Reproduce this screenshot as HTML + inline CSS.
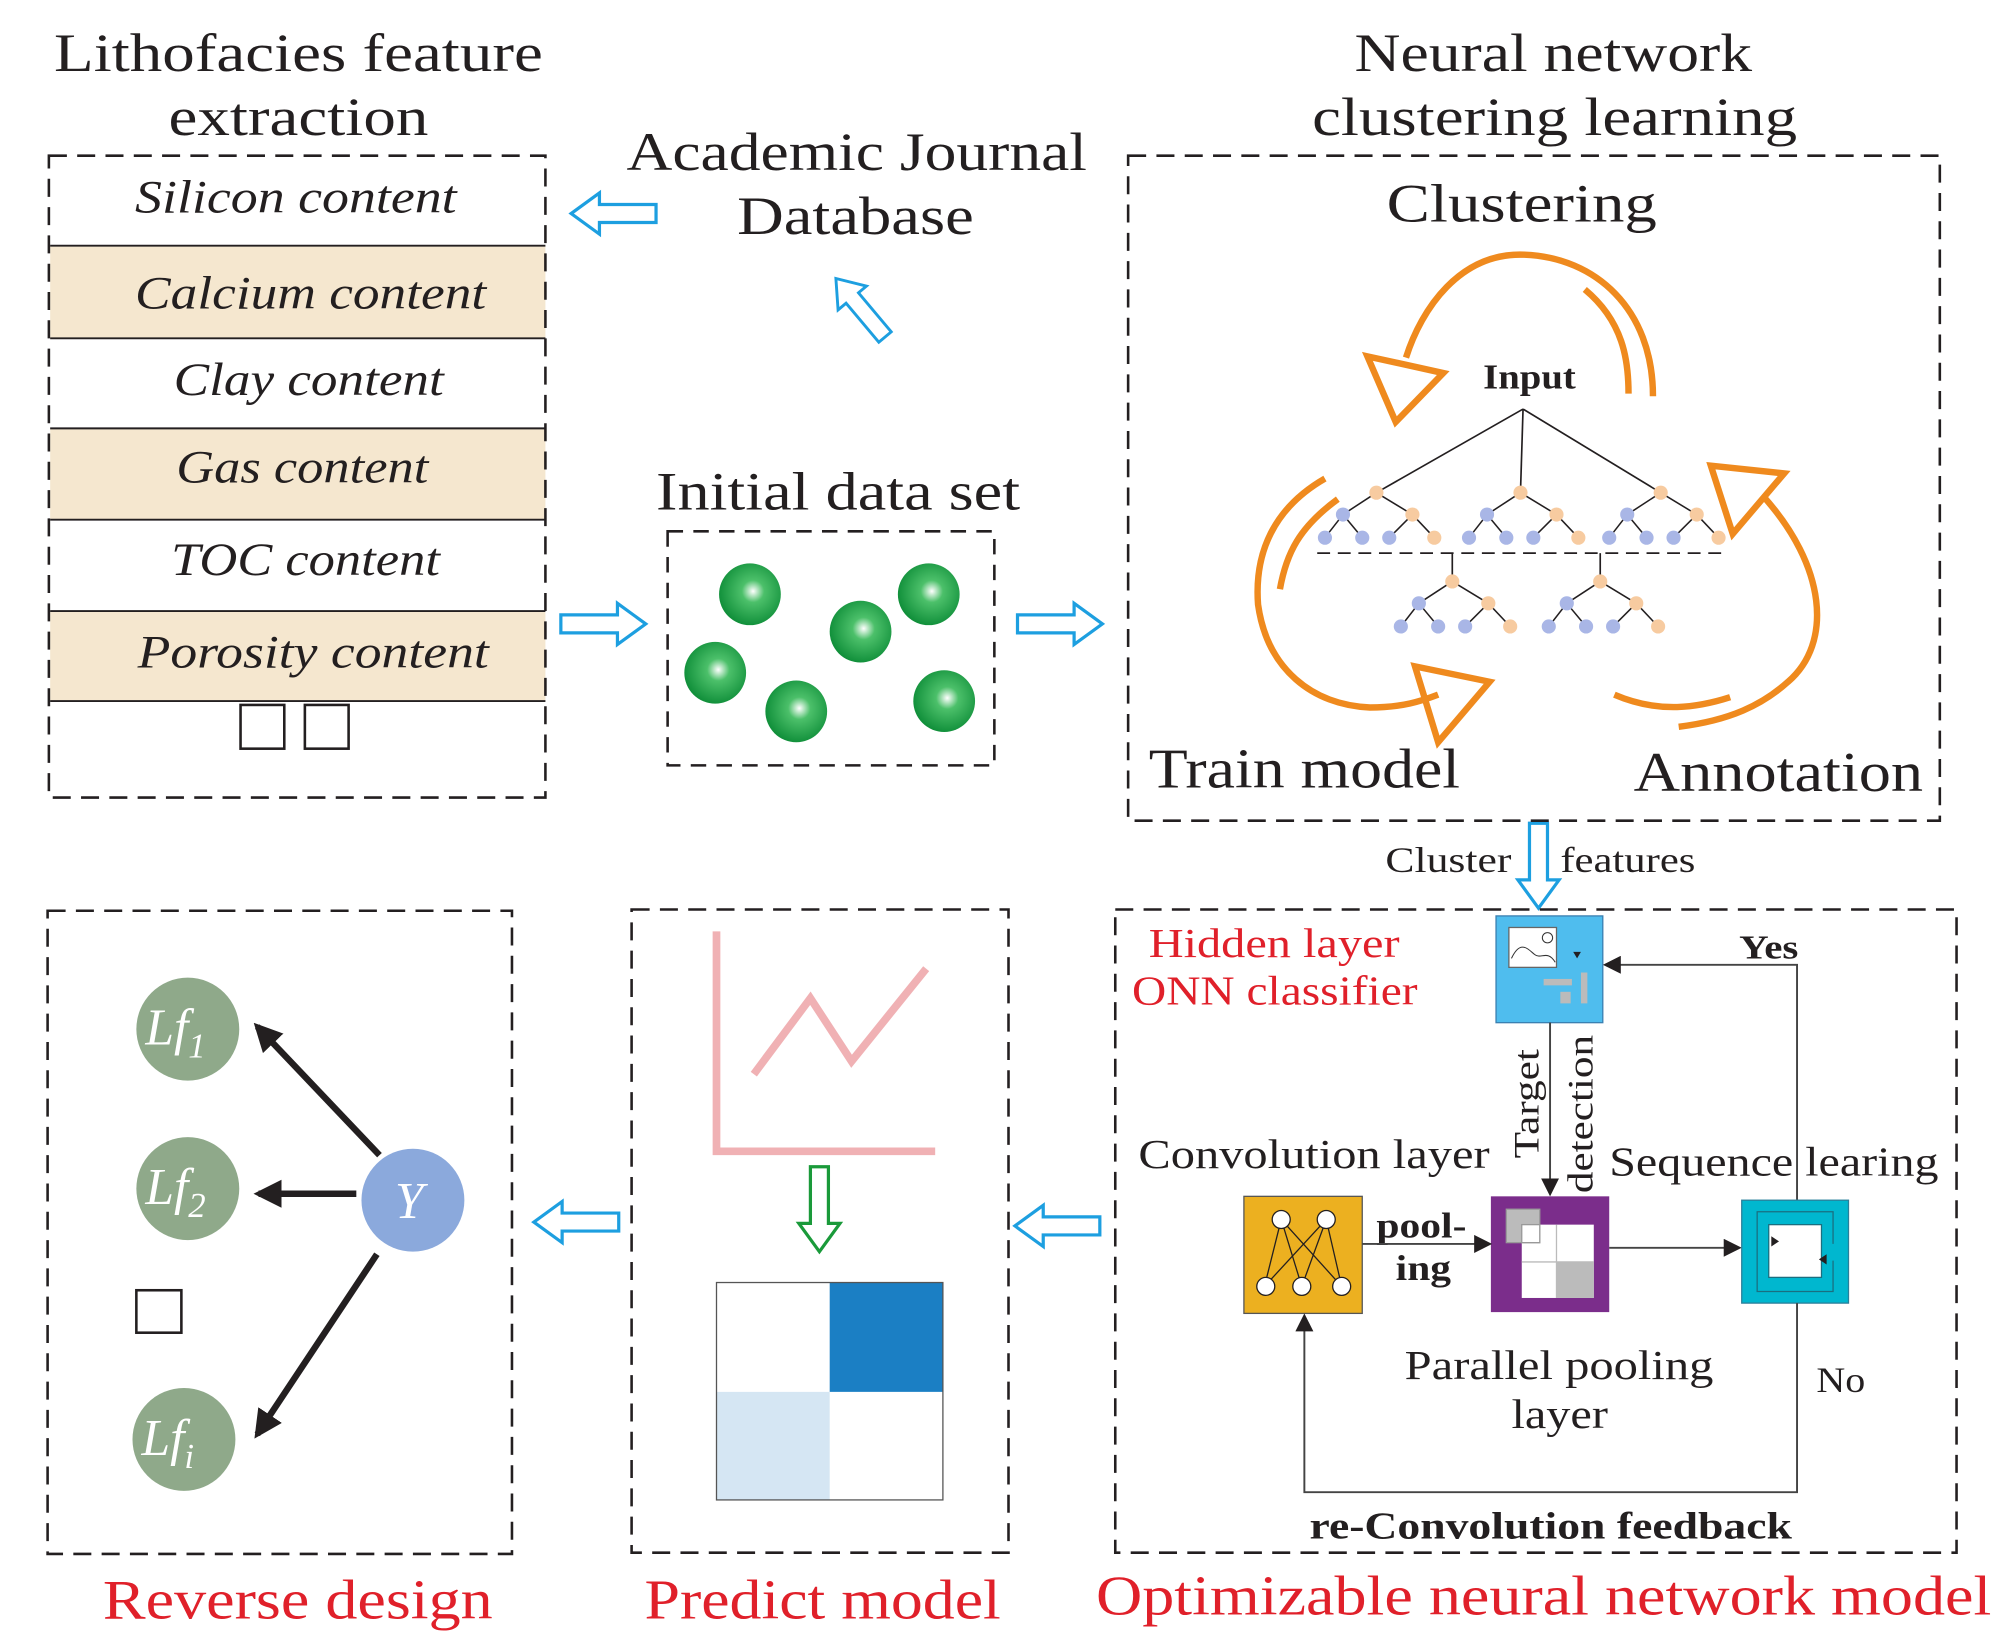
<!DOCTYPE html>
<html><head><meta charset="utf-8"><style>
html,body{margin:0;padding:0;background:#fff}
svg{display:block}
text{font-family:"Liberation Serif",serif;fill:#231f20}
</style></head><body>
<svg width="2008" height="1644" viewBox="0 0 1561 1278" preserveAspectRatio="none" xmlns="http://www.w3.org/2000/svg">
<defs>
<radialGradient id="gb" cx="0.55" cy="0.45" r="0.6"><stop offset="0" stop-color="#fff"/><stop offset="0.3" stop-color="#4cc06a"/><stop offset="1" stop-color="#0a8a35"/></radialGradient>
<marker id="ah2" markerWidth="14" markerHeight="14" refX="12" refY="7" orient="auto" markerUnits="userSpaceOnUse"><path d="M0,0 L14,7 L0,14z" fill="#231f20"/></marker>
<marker id="ahb" markerWidth="22" markerHeight="22" refX="18" refY="11" orient="auto" markerUnits="userSpaceOnUse"><path d="M0,0 L22,11 L0,22z" fill="#231f20"/></marker>
<g id="harr"><path d="M0,-7 L44,-7 L44,-16 L66,0 L44,16 L44,7 L0,7z" fill="#fff" stroke="#1d9fe0" stroke-width="2.5"/></g>
</defs>

<!-- Titles -->
<text x="42" y="55" font-size="42" textLength="380" lengthAdjust="spacingAndGlyphs">Lithofacies feature</text>
<text x="131" y="105" font-size="42" textLength="202" lengthAdjust="spacingAndGlyphs">extraction</text>
<text x="487" y="132" font-size="42" textLength="358" lengthAdjust="spacingAndGlyphs">Academic Journal</text>
<text x="573" y="182" font-size="42" textLength="184" lengthAdjust="spacingAndGlyphs">Database</text>
<text x="1053" y="55" font-size="42" textLength="309" lengthAdjust="spacingAndGlyphs">Neural network</text>
<text x="1020" y="105" font-size="42" textLength="377" lengthAdjust="spacingAndGlyphs">clustering learning</text>
<text x="510" y="396" font-size="42" textLength="283" lengthAdjust="spacingAndGlyphs">Initial data set</text>

<!-- Left box -->
<rect x="39" y="191" width="385" height="72" fill="#f5e7cf"/>
<rect x="39" y="333" width="385" height="71" fill="#f5e7cf"/>
<rect x="39" y="475" width="385" height="70" fill="#f5e7cf"/>
<g stroke="#231f20" stroke-width="1.5">
<line x1="39" y1="191" x2="424" y2="191"/><line x1="39" y1="263" x2="424" y2="263"/>
<line x1="39" y1="333" x2="424" y2="333"/><line x1="39" y1="404" x2="424" y2="404"/>
<line x1="39" y1="475" x2="424" y2="475"/><line x1="39" y1="545" x2="424" y2="545"/>
</g>
<rect x="38" y="121" width="386" height="499" fill="none" stroke="#231f20" stroke-width="2" stroke-dasharray="14,8"/>
<g font-size="36" font-style="italic" lengthAdjust="spacingAndGlyphs">
<text x="105" y="165" textLength="250" lengthAdjust="spacingAndGlyphs">Silicon content</text>
<text x="105" y="240" textLength="273" lengthAdjust="spacingAndGlyphs">Calcium content</text>
<text x="135" y="307" textLength="210" lengthAdjust="spacingAndGlyphs">Clay content</text>
<text x="137" y="375" textLength="196" lengthAdjust="spacingAndGlyphs">Gas content</text>
<text x="133" y="447" textLength="209" lengthAdjust="spacingAndGlyphs">TOC content</text>
<text x="107" y="519" textLength="273" lengthAdjust="spacingAndGlyphs">Porosity content</text>
</g>
<rect x="187" y="548" width="34" height="34" fill="none" stroke="#231f20" stroke-width="2"/>
<rect x="237" y="548" width="34" height="34" fill="none" stroke="#231f20" stroke-width="2"/>

<!-- hollow arrows -->
<use href="#harr" transform="translate(510,166) rotate(180)"/>
<use href="#harr" transform="translate(688,262) rotate(-130) scale(0.9)"/>
<use href="#harr" transform="translate(436,485)"/>
<use href="#harr" transform="translate(791,485)"/>
<use href="#harr" transform="translate(1196,640) rotate(90)"/>
<use href="#harr" transform="translate(481,950) rotate(180)"/>
<use href="#harr" transform="translate(855,953) rotate(180)"/>
<path d="M-7,0 L-7,44 L-16,44 L0,66 L16,44 L7,44 L7,0z" transform="translate(637,907)" fill="#fff" stroke="#1a9a3a" stroke-width="2.5"/>

<!-- initial data set -->
<rect x="519" y="413" width="254" height="182" fill="none" stroke="#231f20" stroke-width="2" stroke-dasharray="12,8"/>
<g fill="url(#gb)">
<circle cx="583" cy="462" r="24"/><circle cx="669" cy="491" r="24"/><circle cx="722" cy="462" r="24"/>
<circle cx="556" cy="523" r="24"/><circle cx="619" cy="553" r="24"/><circle cx="734" cy="545" r="24"/>
</g>

<!-- clustering box -->
<rect x="877" y="121" width="631" height="517" fill="none" stroke="#231f20" stroke-width="2" stroke-dasharray="14,8"/>
<text x="1078" y="172" font-size="42" textLength="210" lengthAdjust="spacingAndGlyphs">Clustering</text>
<text x="1153" y="302" font-size="27" font-weight="bold" textLength="72" lengthAdjust="spacingAndGlyphs">Input</text>
<g fill="none" stroke="#ef8a1e" stroke-width="5">
<path d="M1285,308 C1285,240 1240,200 1185,198 C1135,196 1105,240 1093,278"/>
<path d="M1232,225 C1262,250 1266,280 1266,306"/>
<path d="M1063,277 L1122,290 L1085,328z"/>
<path d="M1330,362 L1387,368 L1347,415z"/>
<path d="M1370,385 C1420,440 1425,500 1390,530 C1370,548 1345,560 1305,565"/>
<path d="M1255,540 C1290,555 1320,550 1345,542"/>
<path d="M1030,372 C990,395 975,430 978,470 C985,520 1020,548 1065,550 C1090,550 1105,545 1118,540"/>
<path d="M1040,388 C1010,410 1000,430 995,458"/>
<path d="M1100,518 L1158,530 L1118,577z"/>
</g>
<g stroke="#231f20" stroke-width="1.3" fill="none">
<line x1="1184" y1="318" x2="1070" y2="383"/><line x1="1184" y1="318" x2="1182" y2="383"/><line x1="1184" y1="318" x2="1291" y2="383"/>
<line x1="1024" y1="430" x2="1340" y2="430" stroke-dasharray="10,6"/>
<line x1="1129" y1="430" x2="1129" y2="452"/><line x1="1244" y1="430" x2="1244" y2="452"/>
</g>
<g stroke="#231f20" stroke-width="1.2">
<g transform="translate(1070,383)"><line x1="0" y1="0" x2="-26" y2="17"/><line x1="0" y1="0" x2="28" y2="17"/><line x1="-26" y1="17" x2="-40" y2="35"/><line x1="-26" y1="17" x2="-11" y2="35"/><line x1="28" y1="17" x2="10" y2="35"/><line x1="28" y1="17" x2="45" y2="35"/></g>
<g transform="translate(1182,383)"><line x1="0" y1="0" x2="-26" y2="17"/><line x1="0" y1="0" x2="28" y2="17"/><line x1="-26" y1="17" x2="-40" y2="35"/><line x1="-26" y1="17" x2="-11" y2="35"/><line x1="28" y1="17" x2="10" y2="35"/><line x1="28" y1="17" x2="45" y2="35"/></g>
<g transform="translate(1291,383)"><line x1="0" y1="0" x2="-26" y2="17"/><line x1="0" y1="0" x2="28" y2="17"/><line x1="-26" y1="17" x2="-40" y2="35"/><line x1="-26" y1="17" x2="-11" y2="35"/><line x1="28" y1="17" x2="10" y2="35"/><line x1="28" y1="17" x2="45" y2="35"/></g>
<g transform="translate(1129,452)"><line x1="0" y1="0" x2="-26" y2="17"/><line x1="0" y1="0" x2="28" y2="17"/><line x1="-26" y1="17" x2="-40" y2="35"/><line x1="-26" y1="17" x2="-11" y2="35"/><line x1="28" y1="17" x2="10" y2="35"/><line x1="28" y1="17" x2="45" y2="35"/></g>
<g transform="translate(1244,452)"><line x1="0" y1="0" x2="-26" y2="17"/><line x1="0" y1="0" x2="28" y2="17"/><line x1="-26" y1="17" x2="-40" y2="35"/><line x1="-26" y1="17" x2="-11" y2="35"/><line x1="28" y1="17" x2="10" y2="35"/><line x1="28" y1="17" x2="45" y2="35"/></g>
</g>
<g>
<g transform="translate(1070,383)"><circle r="5.5" fill="#f7cba0"/><circle cx="-26" cy="17" r="5.5" fill="#a9b6e6"/><circle cx="28" cy="17" r="5.5" fill="#f7cba0"/><circle cx="-40" cy="35" r="5.5" fill="#a9b6e6"/><circle cx="-11" cy="35" r="5.5" fill="#a9b6e6"/><circle cx="10" cy="35" r="5.5" fill="#a9b6e6"/><circle cx="45" cy="35" r="5.5" fill="#f7cba0"/></g>
<g transform="translate(1182,383)"><circle r="5.5" fill="#f7cba0"/><circle cx="-26" cy="17" r="5.5" fill="#a9b6e6"/><circle cx="28" cy="17" r="5.5" fill="#f7cba0"/><circle cx="-40" cy="35" r="5.5" fill="#a9b6e6"/><circle cx="-11" cy="35" r="5.5" fill="#a9b6e6"/><circle cx="10" cy="35" r="5.5" fill="#a9b6e6"/><circle cx="45" cy="35" r="5.5" fill="#f7cba0"/></g>
<g transform="translate(1291,383)"><circle r="5.5" fill="#f7cba0"/><circle cx="-26" cy="17" r="5.5" fill="#a9b6e6"/><circle cx="28" cy="17" r="5.5" fill="#f7cba0"/><circle cx="-40" cy="35" r="5.5" fill="#a9b6e6"/><circle cx="-11" cy="35" r="5.5" fill="#a9b6e6"/><circle cx="10" cy="35" r="5.5" fill="#a9b6e6"/><circle cx="45" cy="35" r="5.5" fill="#f7cba0"/></g>
<g transform="translate(1129,452)"><circle r="5.5" fill="#f7cba0"/><circle cx="-26" cy="17" r="5.5" fill="#a9b6e6"/><circle cx="28" cy="17" r="5.5" fill="#f7cba0"/><circle cx="-40" cy="35" r="5.5" fill="#a9b6e6"/><circle cx="-11" cy="35" r="5.5" fill="#a9b6e6"/><circle cx="10" cy="35" r="5.5" fill="#a9b6e6"/><circle cx="45" cy="35" r="5.5" fill="#f7cba0"/></g>
<g transform="translate(1244,452)"><circle r="5.5" fill="#f7cba0"/><circle cx="-26" cy="17" r="5.5" fill="#a9b6e6"/><circle cx="28" cy="17" r="5.5" fill="#f7cba0"/><circle cx="-40" cy="35" r="5.5" fill="#a9b6e6"/><circle cx="-11" cy="35" r="5.5" fill="#a9b6e6"/><circle cx="10" cy="35" r="5.5" fill="#a9b6e6"/><circle cx="45" cy="35" r="5.5" fill="#f7cba0"/></g>
</g>
<text x="893" y="612" font-size="44" textLength="242" lengthAdjust="spacingAndGlyphs">Train model</text>
<text x="1270" y="615" font-size="44" textLength="225" lengthAdjust="spacingAndGlyphs">Annotation</text>
<text x="1077" y="678" font-size="28" textLength="98" lengthAdjust="spacingAndGlyphs">Cluster</text>
<text x="1213" y="678" font-size="28" textLength="105" lengthAdjust="spacingAndGlyphs">features</text>

<!-- Optimizable box -->
<rect x="867" y="707" width="654" height="500" fill="none" stroke="#231f20" stroke-width="2" stroke-dasharray="14,8"/>
<text x="893" y="744" font-size="32" style="fill:#e0202a" textLength="195" lengthAdjust="spacingAndGlyphs">Hidden layer</text>
<text x="880" y="781" font-size="32" style="fill:#e0202a" textLength="222" lengthAdjust="spacingAndGlyphs">ONN classifier</text>
<rect x="1163" y="712" width="83" height="83" fill="#4fbdee" stroke="#3a7fb0" stroke-width="1"/>
<rect x="1173" y="721" width="37" height="31" fill="#fff" stroke="#666" stroke-width="1"/>
<path d="M1175,745 C1182,730 1188,738 1193,742 C1198,746 1203,738 1209,748" fill="none" stroke="#333" stroke-width="0.8"/>
<circle cx="1203" cy="729" r="4" fill="none" stroke="#333" stroke-width="0.8"/>
<path d="M1223,740 L1229,740 L1226,745z" fill="#231f20"/>
<rect x="1200" y="761" width="22" height="5" fill="#bbb"/><rect x="1229" y="756" width="5" height="24" fill="#bbb"/><rect x="1213" y="771" width="8" height="9" fill="#bbb"/>
<text x="1352" y="745" font-size="26" font-weight="bold" textLength="46" lengthAdjust="spacingAndGlyphs">Yes</text>
<polyline points="1397,933 1397,750 1248,750" fill="none" stroke="#444" stroke-width="1.5" marker-end="url(#ah2)"/>
<line x1="1205" y1="795" x2="1205" y2="928" stroke="#444" stroke-width="1.5" marker-end="url(#ah2)"/>
<text transform="translate(1196,858) rotate(-90)" font-size="28" text-anchor="middle" textLength="85" lengthAdjust="spacingAndGlyphs">Target</text>
<text transform="translate(1238,866) rotate(-90)" font-size="28" text-anchor="middle" textLength="123" lengthAdjust="spacingAndGlyphs">detection</text>
<text x="885" y="908" font-size="32" textLength="273" lengthAdjust="spacingAndGlyphs">Convolution layer</text>
<text x="1251" y="914" font-size="32" textLength="256" lengthAdjust="spacingAndGlyphs">Sequence learing</text>
<rect x="967" y="930" width="92" height="91" fill="#ecb020" stroke="#555" stroke-width="1"/>
<g stroke="#231f20" stroke-width="1">
<line x1="996" y1="948" x2="983" y2="1000"/><line x1="996" y1="948" x2="1012" y2="1000"/><line x1="996" y1="948" x2="1043" y2="1000"/>
<line x1="1031" y1="948" x2="983" y2="1000"/><line x1="1031" y1="948" x2="1012" y2="1000"/><line x1="1031" y1="948" x2="1043" y2="1000"/>
</g>
<g fill="#fff" stroke="#231f20" stroke-width="1">
<circle cx="996" cy="948" r="7"/><circle cx="1031" cy="948" r="7"/><circle cx="984" cy="1000" r="7"/><circle cx="1012" cy="1000" r="7"/><circle cx="1043" cy="1000" r="7"/>
</g>
<rect x="1159" y="930" width="92" height="90" fill="#7b2d8b"/>
<rect x="1183" y="952" width="56" height="57" fill="#fff"/>
<rect x="1210" y="981" width="29" height="28" fill="#bbb"/>
<line x1="1183" y1="981" x2="1239" y2="981" stroke="#bbb"/><line x1="1210" y1="952" x2="1210" y2="1009" stroke="#bbb"/>
<rect x="1171" y="940" width="26" height="26" fill="#bbb" stroke="#999"/>
<rect x="1183" y="952" width="14" height="14" fill="#fff" stroke="#999"/>
<text x="1070" y="962" font-size="28" font-weight="bold" textLength="70" lengthAdjust="spacingAndGlyphs">pool-</text>
<text x="1085" y="995" font-size="28" font-weight="bold" textLength="43" lengthAdjust="spacingAndGlyphs">ing</text>
<line x1="1059" y1="967" x2="1158" y2="967" stroke="#444" stroke-width="1.5" marker-end="url(#ah2)"/>
<line x1="1251" y1="970" x2="1352" y2="970" stroke="#444" stroke-width="1.5" marker-end="url(#ah2)"/>
<rect x="1354" y="933" width="83" height="80" fill="#00b7cf" stroke="#2a7f9a" stroke-width="1"/>
<path d="M1425,967 L1425,942 L1366,942 L1366,1004 L1425,1004 L1425,980" fill="none" stroke="#1a6f80" stroke-width="1"/>
<rect x="1375" y="952" width="41" height="41" fill="#fff" stroke="#1a6f80"/>
<path d="M1377,961 L1383,965 L1377,969z M1420,975 L1414,979 L1420,983z" fill="#231f20"/>
<text x="1092" y="1072" font-size="32" textLength="240" lengthAdjust="spacingAndGlyphs">Parallel pooling</text>
<text x="1175" y="1110" font-size="32" textLength="75" lengthAdjust="spacingAndGlyphs">layer</text>
<text x="1412" y="1082" font-size="28" textLength="38" lengthAdjust="spacingAndGlyphs">No</text>
<polyline points="1397,1013 1397,1160 1014,1160 1014,1023" fill="none" stroke="#444" stroke-width="1.5" marker-end="url(#ah2)"/>
<text x="1018" y="1196" font-size="30" font-weight="bold" textLength="375" lengthAdjust="spacingAndGlyphs">re-Convolution feedback</text>
<text x="852" y="1255" font-size="44" style="fill:#e0202a" textLength="696" lengthAdjust="spacingAndGlyphs">Optimizable neural network model</text>

<!-- Predict box -->
<rect x="491" y="707" width="293" height="500" fill="none" stroke="#231f20" stroke-width="2" stroke-dasharray="14,8"/>
<g fill="none" stroke="#f0b1b4" stroke-width="6">
<polyline points="557,724 557,895 727,895"/>
<polyline points="586,835 630,776 662,825 720,753"/>
</g>
<rect x="557" y="997" width="88" height="85" fill="#fff"/>
<rect x="645" y="997" width="88" height="85" fill="#1b7fc4"/>
<rect x="557" y="1082" width="88" height="84" fill="#d5e6f3"/>
<rect x="557" y="997" width="176" height="169" fill="none" stroke="#555" stroke-width="1"/>
<text x="501" y="1258" font-size="44" style="fill:#e0202a" textLength="277" lengthAdjust="spacingAndGlyphs">Predict model</text>

<!-- Reverse box -->
<rect x="37" y="708" width="361" height="500" fill="none" stroke="#231f20" stroke-width="2" stroke-dasharray="14,8"/>
<g fill="#8fa98a"><circle cx="146" cy="800" r="40"/><circle cx="146" cy="924" r="40"/><circle cx="143" cy="1119" r="40"/></g>
<circle cx="321" cy="933" r="40" fill="#8ba9dc"/>
<g font-size="40" font-style="italic">
<text x="113" y="812" style="fill:#fff">Lf<tspan font-size="27" dy="10">1</tspan></text>
<text x="113" y="936" style="fill:#fff">Lf<tspan font-size="27" dy="10">2</tspan></text>
<text x="110" y="1131" style="fill:#fff">Lf<tspan font-size="27" dy="10">i</tspan></text>
<text x="307" y="947" style="fill:#fff">Y</text>
</g>
<g stroke="#231f20" stroke-width="5">
<line x1="295" y1="898" x2="200" y2="798" marker-end="url(#ahb)"/>
<line x1="277" y1="928" x2="201" y2="928" marker-end="url(#ahb)"/>
<line x1="293" y1="975" x2="200" y2="1115" marker-end="url(#ahb)"/>
</g>
<rect x="106" y="1003" width="35" height="33" fill="none" stroke="#231f20" stroke-width="2"/>
<text x="80" y="1258" font-size="44" style="fill:#e0202a" textLength="303" lengthAdjust="spacingAndGlyphs">Reverse design</text>
</svg>
</body></html>
